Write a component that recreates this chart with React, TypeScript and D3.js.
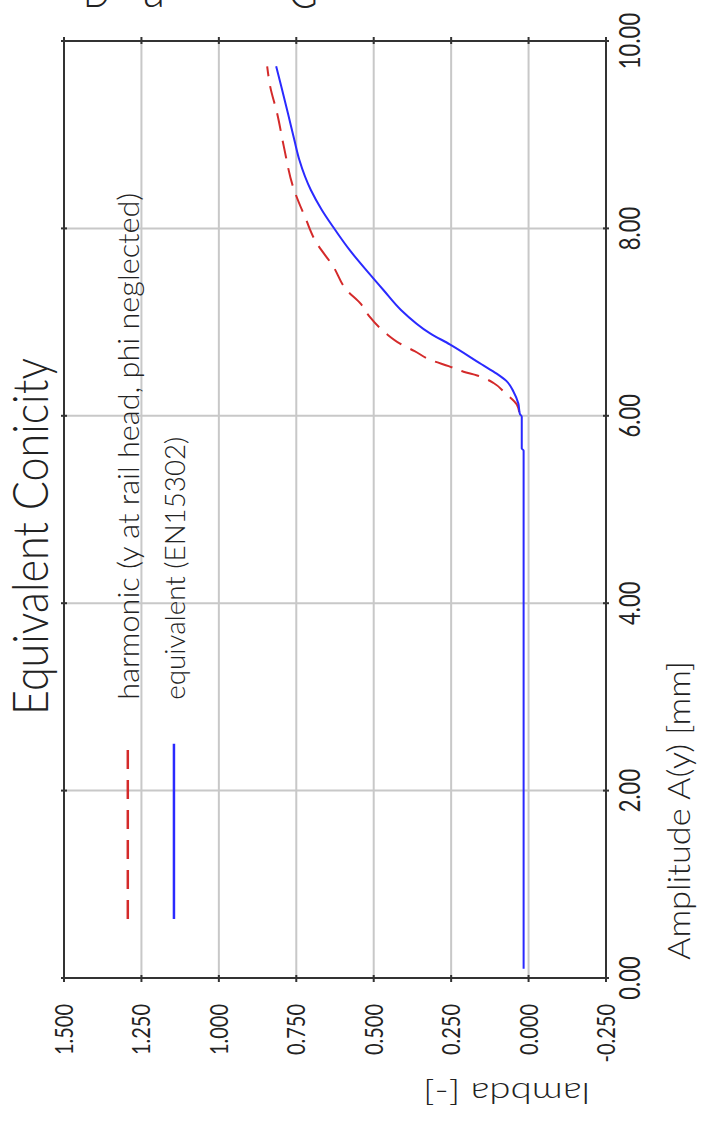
import React from "react";
import * as d3 from "d3";

// amplitude A(y) [mm] runs up the page, lambda [-] runs across it (plot is turned 90deg)
const amplitudeTicks = [0, 2, 4, 6, 8, 10];
const amplitudeLabels = ["0.00", "2.00", "4.00", "6.00", "8.00", "10.00"];
const lambdaTicks = [1.5, 1.25, 1.0, 0.75, 0.5, 0.25, 0.0, -0.25];
const lambdaLabels = ["1.500", "1.250", "1.000", "0.750", "0.500", "0.250", "0.000", "-0.250"];

// harmonic (y at rail head, phi neglected)
const harmonicAmp = [6.04, 6.12, 6.24, 6.35, 6.43, 6.47, 6.53, 6.59, 6.69, 6.77, 6.87, 7.06, 7.2, 7.34, 7.59, 7.87, 8.09, 8.45, 8.87, 9.23, 9.51, 9.73];
const harmonicLambda = [0.03, 0.038, 0.075, 0.113, 0.166, 0.21, 0.258, 0.312, 0.368, 0.415, 0.457, 0.514, 0.543, 0.587, 0.63, 0.689, 0.718, 0.761, 0.79, 0.812, 0.834, 0.844];

// equivalent (EN15302)
const equivalentAmp = [0.1, 5.63, 5.65, 5.99, 6.02, 6.13, 6.26, 6.37, 6.45, 6.55, 6.76, 6.88, 7.13, 7.34, 7.52, 7.77, 8.02, 8.2, 8.41, 8.73, 8.94, 9.23, 9.51, 9.73];
const equivalentLambda = [0.016, 0.016, 0.022, 0.022, 0.028, 0.033, 0.049, 0.071, 0.103, 0.152, 0.253, 0.318, 0.412, 0.468, 0.515, 0.578, 0.632, 0.668, 0.703, 0.74, 0.756, 0.777, 0.798, 0.815];

const legendLabels = ["harmonic (y at rail head, phi neglected)", "equivalent (EN15302)"];
const legendLambda = [1.294, 1.145];
const legendAmp = [0.63, 2.5];
const legendTextAmp = 2.97;

const font = "Lato, 'DejaVu Sans', sans-serif";
const ink = "#222";

function App() {
  const x = d3.scaleLinear().domain([1.5, -0.25]).range([64, 606]);
  const y = d3.scaleLinear().domain([0, 10]).range([978, 41]);

  const line = d3
    .line<[number, number]>()
    .x((d) => x(d[1]))
    .y((d) => y(d[0]))
    .curve(d3.curveMonotoneY);

  const harmonic = harmonicAmp.map((a, i) => [a, harmonicLambda[i]] as [number, number]);
  const equivalent = equivalentAmp.map((a, i) => [a, equivalentLambda[i]] as [number, number]);

  const x0 = x(1.5), x1 = x(-0.25);
  const y0 = y(0), y1 = y(10);

  return (
    <svg width={704} height={1131} style={{ position: "absolute", left: 0, top: 0, background: "#fff" }}>
      {/* heading cut off at the top of the page */}
      <g fontFamily={font} fontWeight={300} fontSize={49} fill={ink}>
        <text x={83} y={7} textLength={28} lengthAdjust="spacingAndGlyphs">D</text>
        <text x={143} y={7} textLength={22} lengthAdjust="spacingAndGlyphs">a</text>
        <text x={288} y={8} textLength={30} lengthAdjust="spacingAndGlyphs">G</text>
      </g>

      {/* grid */}
      <g stroke="#c8c8c8" strokeWidth={2}>
        {lambdaTicks.slice(1, -1).map((t) => (
          <line key={"gx" + t} x1={x(t)} x2={x(t)} y1={y1} y2={y0} />
        ))}
        {amplitudeTicks.slice(1, -1).map((t) => (
          <line key={"gy" + t} x1={x0} x2={x1} y1={y(t)} y2={y(t)} />
        ))}
      </g>

      {/* frame + ticks */}
      <rect x={x0} y={y1} width={x1 - x0} height={y0 - y1} fill="none" stroke="#333" strokeWidth={2} />
      <g stroke="#333" strokeWidth={2}>
        {lambdaTicks.map((t) => (
          <g key={"tx" + t}>
            <line x1={x(t)} x2={x(t)} y1={y1 - 4} y2={y1 + 3} />
            <line x1={x(t)} x2={x(t)} y1={y0 - 3} y2={y0 + 4} />
          </g>
        ))}
        {amplitudeTicks.map((t) => (
          <g key={"ty" + t}>
            <line x1={x0 - 3} x2={x0 + 3} y1={y(t)} y2={y(t)} />
            <line x1={x1 - 3} x2={x1 + 3} y1={y(t)} y2={y(t)} />
          </g>
        ))}
      </g>

      {/* curves */}
      <path d={line(harmonic) || ""} fill="none" stroke="#d42a2a" strokeWidth={2} strokeDasharray="18 10" />
      <path d={line(equivalent) || ""} fill="none" stroke="#2a2aff" strokeWidth={2} />

      {/* legend */}
      <line x1={x(legendLambda[0])} x2={x(legendLambda[0])} y1={y(legendAmp[0])} y2={y(legendAmp[1])}
        stroke="#d42a2a" strokeWidth={2.5} strokeDasharray="19 11" />
      <line x1={x(legendLambda[1])} x2={x(legendLambda[1])} y1={y(legendAmp[0])} y2={y(legendAmp[1])}
        stroke="#2a2aff" strokeWidth={2.5} />
      <g fontFamily={font} fontWeight={300} fill={ink}>
        <text transform={`translate(${x(legendLambda[0]) + 11},${y(legendTextAmp)}) rotate(-90)`}
          fontSize={30} textLength={507} lengthAdjust="spacingAndGlyphs">{legendLabels[0]}</text>
        <text transform={`translate(${x(legendLambda[1]) + 11},${y(legendTextAmp)}) rotate(-90)`}
          fontSize={27} textLength={263} lengthAdjust="spacingAndGlyphs">{legendLabels[1]}</text>
      </g>

      {/* title */}
      <text transform="translate(48,715) rotate(-90)" fontFamily={font} fontWeight={300} fontSize={50}
        fill={ink} textLength={357} lengthAdjust="spacingAndGlyphs">Equivalent Conicity</text>

      {/* amplitude tick labels (right side) */}
      <g fontFamily={font} fontWeight={400} fontSize={29} fill={ink}>
        {amplitudeTicks.map((t, i) => (
          <text key={"la" + t} transform={`translate(${x1 + 34},${y(t)}) rotate(-90) scale(0.76,1)`}
            textAnchor="middle">{amplitudeLabels[i]}</text>
        ))}
      </g>
      <text transform="translate(690,960) rotate(-90)" fontFamily={font} fontWeight={300} fontSize={31}
        fill={ink} textLength={299} lengthAdjust="spacingAndGlyphs">Amplitude A(y) [mm]</text>

      {/* lambda tick labels (bottom) */}
      <g fontFamily={font} fontWeight={400} fontSize={25} fill={ink}>
        {lambdaTicks.map((t, i) => (
          <text key={"ll" + t} transform={`translate(${x(t) + 9},1004) rotate(-90) scale(0.8,1)`}
            textAnchor="end">{lambdaLabels[i]}</text>
        ))}
      </g>
      <text transform="translate(590,1083) rotate(180)" fontFamily={font} fontWeight={300} fontSize={29}
        fill={ink} textLength={167} lengthAdjust="spacingAndGlyphs">lambda [-]</text>
    </svg>
  );
}

export default App;
